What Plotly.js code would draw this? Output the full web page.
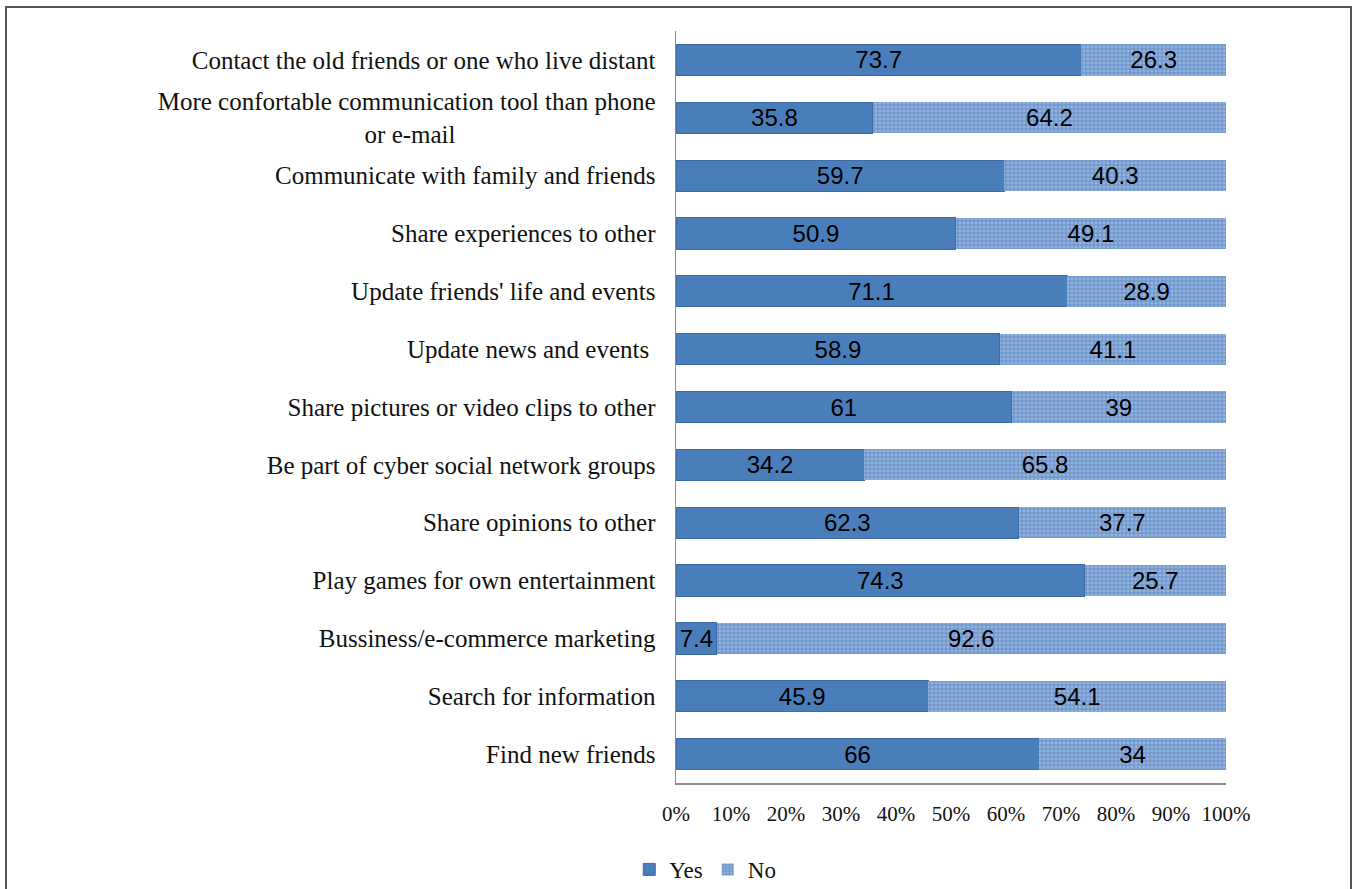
<!DOCTYPE html>
<html><head><meta charset="utf-8">
<script src="https://cdn.plot.ly/plotly-3.0.1.min.js"></script>
<style>
html,body{margin:0;padding:0;background:#fff;}
#frame{position:absolute;left:5px;top:6px;width:1347px;height:900px;border:2px solid #555;box-sizing:border-box;}
#chart{position:absolute;left:0;top:0;width:1357px;height:889px;}
</style></head>
<body>
<div id="frame"></div>
<div id="chart"></div>
<script>
const categories = [
  "Contact the old friends or one who live distant",
  "More confortable communication tool than phone<br>or e-mail" + "\u00a0".repeat(32),
  "Communicate with family and friends",
  "Share experiences to other",
  "Update friends' life and events",
  "Update news and events ",
  "Share pictures or video clips to other",
  "Be part of cyber social network groups",
  "Share opinions to other",
  "Play games for own entertainment",
  "Bussiness/e-commerce marketing",
  "Search for information",
  "Find new friends"
];
const yesValues = [73.7, 35.8, 59.7, 50.9, 71.1, 58.9, 61, 34.2, 62.3, 74.3, 7.4, 45.9, 66];
const noValues  = [26.3, 64.2, 40.3, 49.1, 28.9, 41.1, 39, 65.8, 37.7, 25.7, 92.6, 54.1, 34];
const tickVals = [0,10,20,30,40,50,60,70,80,90,100];

const labelFont = {family: "Liberation Sans, Arial, sans-serif", size: 24, color: "#000"};
const traces = [
  {
    type: "bar", orientation: "h", name: "Yes",
    y: categories, x: yesValues,
    text: yesValues.map(String), textposition: "inside", insidetextanchor: "middle",
    textangle: 0, constraintext: "none", textfont: labelFont,
    marker: {color: "#4a7ebb", line: {color: "#3d6ca5", width: 1}},
    hoverinfo: "x+name"
  },
  {
    type: "bar", orientation: "h", name: "No",
    y: categories, x: noValues,
    text: noValues.map(String), textposition: "inside", insidetextanchor: "middle",
    textangle: 0, constraintext: "none", textfont: labelFont,
    marker: {color: "#8aacdb", line: {width: 0},
      pattern: {shape: ".", fgcolor: "#4274b6", bgcolor: "#a3bee4", size: 4, solidity: 0.75, fillmode: "overlay"}},
    hoverinfo: "x+name"
  }
];

const layout = {
  width: 1357, height: 889,
  paper_bgcolor: "rgba(0,0,0,0)", plot_bgcolor: "rgba(0,0,0,0)",
  margin: {l: 676, r: 131, t: 31, b: 106, autoexpand: false},
  barmode: "stack", bargap: 0.46,
  showlegend: true,
  legend: {orientation: "h", x: -0.085, xanchor: "left", y: -0.115, yanchor: "middle",
    font: {family: "Liberation Serif, Times New Roman, serif", size: 23, color: "#111"},
    itemwidth: 30, traceorder: "normal"},
  xaxis: {
    range: [0, 100], tickvals: tickVals, ticktext: tickVals.map(v => v + "%"),
    showgrid: false, zeroline: false, showline: true, linecolor: "#8c8c8c", linewidth: 1.5,
    ticks: "", ticklabelstandoff: 11,
    tickfont: {family: "Liberation Serif, Times New Roman, serif", size: 21, color: "#111"},
    fixedrange: true
  },
  yaxis: {
    type: "category", autorange: "reversed",
    showgrid: false, zeroline: false, showline: true, linecolor: "#8c8c8c", linewidth: 1.5,
    ticks: "", ticklabelstandoff: 14,
    tickfont: {family: "Liberation Serif, Times New Roman, serif", size: 25, color: "#111"},
    fixedrange: true
  }
};
Plotly.newPlot("chart", traces, layout, {displayModeBar: false, staticPlot: true});
</script>
</body></html>
